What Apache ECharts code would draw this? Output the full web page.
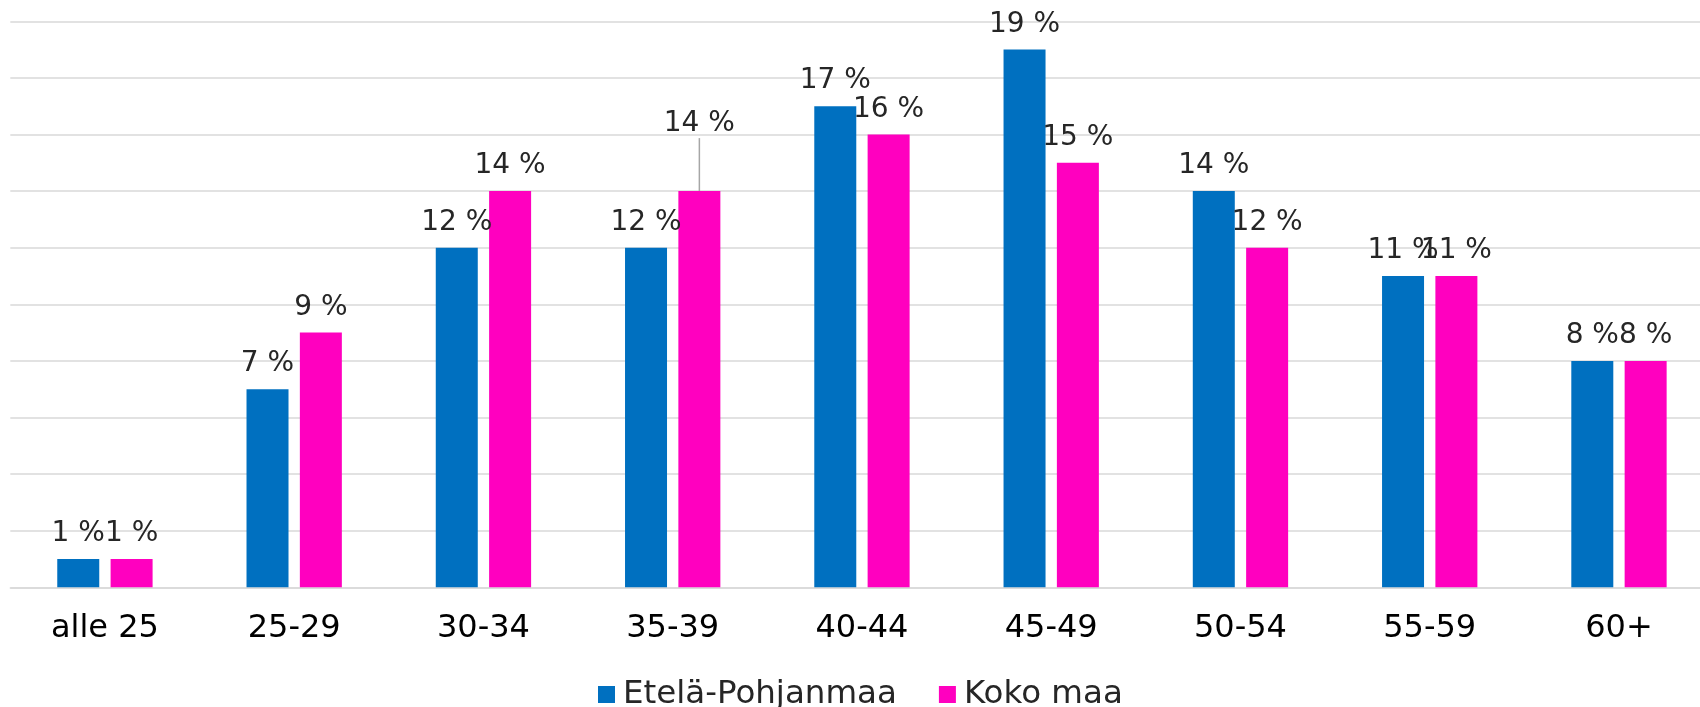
<!DOCTYPE html>
<html>
<head>
<meta charset="utf-8">
<script src="https://cdn.jsdelivr.net/npm/echarts@6/dist/echarts.min.js"></script>
<style>
html,body{margin:0;padding:0;background:#fff;}
#chart{width:1700px;height:707px;}
</style>
</head>
<body>
<div id="chart"></div>
<script>
const categories = ['alle 25', '25-29', '30-34', '35-39', '40-44', '45-49', '50-54', '55-59', '60+'];
const seriesNames = ['Etelä-Pohjanmaa', 'Koko maa'];
const etelaPohjanmaa = [1, 7, 12, 12, 17, 19, 14, 11, 8];
const kokoMaa = [1, 9, 14, 14, 16, 15, 12, 11, 8];
const colors = ['#0070C0', '#FF00BF'];
// index of label moved up with a leader line (Koko maa, 35-39)
const movedLabelIndex = 3;

const chart = echarts.init(document.getElementById('chart'), null, {renderer: 'canvas'});

const labelStyle = {
  show: true,
  position: 'top',
  distance: 11,
  formatter: '{c} %',
  fontFamily: 'DejaVu Sans',
  fontSize: 28,
  color: '#262626'
};

chart.setOption({
  animation: false,
  backgroundColor: '#ffffff',
  color: colors,
  grid: {left: 10.3, width: 1703.3, top: 21.3, height: 566, containLabel: false, outerBoundsMode: 'none'},
  legend: {
    data: seriesNames,
    left: 593,
    top: 673,
    itemWidth: 17,
    itemHeight: 17,
    itemGap: 42,
    icon: 'rect',
    textStyle: {fontFamily: 'DejaVu Sans', fontSize: 32.5, color: '#262626', padding: [0, 0, 0, 3]}
  },
  xAxis: {
    type: 'category',
    data: categories,
    axisLine: {show: true, lineStyle: {color: '#d9d9d9', width: 1.5}},
    axisTick: {show: false},
    axisLabel: {fontFamily: 'DejaVu Sans', fontSize: 32, color: '#000000', margin: 25}
  },
  yAxis: {
    type: 'value',
    min: 0,
    max: 20,
    interval: 2,
    axisLabel: {show: false},
    axisLine: {show: false},
    axisTick: {show: false},
    splitLine: {lineStyle: {color: '#d9d9d9', width: 1.5}}
  },
  series: [
    {
      name: seriesNames[0],
      type: 'bar',
      data: etelaPohjanmaa,
      barWidth: 42,
      barGap: '27%',
      label: labelStyle
    },
    {
      name: seriesNames[1],
      type: 'bar',
      data: kokoMaa.map((v, i) => i === movedLabelIndex
        ? {value: v, labelLine: {show: true, lineStyle: {color: '#a6a6a6', width: 1.5}}}
        : v),
      barWidth: 42,
      barGap: '27%',
      label: labelStyle,
      labelLayout: function (params) {
        if (params.dataIndex === movedLabelIndex) {
          return {dy: -42};
        }
        return {};
      }
    }
  ]
});
</script>
</body>
</html>
